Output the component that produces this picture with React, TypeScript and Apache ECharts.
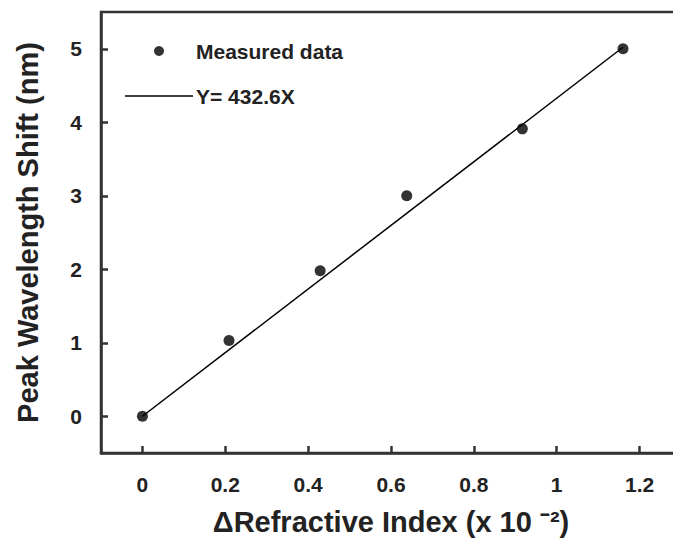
import React, { useEffect, useRef } from "react";
import * as echarts from "echarts";

const measuredX = [0, 0.209, 0.429, 0.638, 0.917, 1.16];
const measuredY = [0, 1.03, 1.98, 3.0, 3.91, 5.0];
const fitX = [0, 1.16];
const fitY = [0, 5.02];
const xTicks = [0, 0.2, 0.4, 0.6, 0.8, 1, 1.2];
const yTicks = [0, 1, 2, 3, 4, 5];
const seriesNames = ["Measured data", "Y= 432.6X"];
const xTitle = "ΔRefractive Index (x 10 ⁻²)";
const yTitle = "Peak Wavelength Shift (nm)";

const FONT = '"Liberation Sans", Arial, sans-serif';
const AXIS = "#333333";
const TEXT = "#222222";

export default function App() {
  const ref = useRef<HTMLDivElement>(null);
  useEffect(() => {
    if (!ref.current) return;
    const chart = echarts.init(ref.current, null, { renderer: "svg" });
    chart.setOption({
      animation: false,
      backgroundColor: "#ffffff",
      grid: {
        left: 101,
        right: 9,
        top: 12,
        bottom: 87,
        show: true,
        borderColor: AXIS,
        borderWidth: 2.5,
        backgroundColor: "transparent",
      },
      legend: {
        orient: "vertical",
        left: 120,
        top: 34,
        itemWidth: 68,
        itemHeight: 10,
        itemGap: 21,
        textStyle: {
          fontFamily: FONT,
          fontWeight: "bold",
          fontSize: 21,
          lineHeight: 24,
          color: TEXT,
          padding: [0, 0, 0, -2],
        },
        data: [
          { name: seriesNames[0], icon: "circle", itemStyle: { color: "#000000" } },
          {
            name: seriesNames[1],
            icon: "path://M0,0 L68,0 L68,1.5 L0,1.5 Z",
            itemStyle: { color: "#000000" },
          },
        ],
      },
      xAxis: {
        type: "value",
        min: -0.1,
        max: 1.3,
        name: xTitle,
        nameLocation: "middle",
        nameGap: 54,
        nameTextStyle: { fontFamily: FONT, fontWeight: "bold", fontSize: 29, color: TEXT },
        axisLine: { show: true, onZero: false, lineStyle: { color: AXIS, width: 2.5 } },
        axisTick: {
          show: true,
          inside: true,
          length: 7,
          customValues: xTicks,
          lineStyle: { color: AXIS, width: 2.5 },
        },
        axisLabel: {
          customValues: xTicks,
          margin: 21,
          fontFamily: FONT,
          fontWeight: "bold",
          fontSize: 21,
          color: TEXT,
          formatter: (v: number) => String(Math.round(v * 10) / 10),
        },
        splitLine: { show: false },
      },
      yAxis: {
        type: "value",
        min: -0.5,
        max: 5.5,
        name: yTitle,
        nameLocation: "middle",
        nameGap: 59,
        nameTextStyle: { fontFamily: FONT, fontWeight: "bold", fontSize: 29, color: TEXT },
        axisLine: { show: true, onZero: false, lineStyle: { color: AXIS, width: 2.5 } },
        axisTick: {
          show: true,
          inside: true,
          length: 7,
          customValues: yTicks,
          lineStyle: { color: AXIS, width: 2.5 },
        },
        axisLabel: {
          customValues: yTicks,
          margin: 19,
          fontFamily: FONT,
          fontWeight: "bold",
          fontSize: 21,
          color: TEXT,
        },
        splitLine: { show: false },
      },
      series: [
        {
          name: seriesNames[0],
          type: "scatter",
          symbol: "circle",
          symbolSize: 11,
          itemStyle: { color: "#000000" },
          data: measuredX.map((x, i) => [x, measuredY[i]]),
          z: 3,
        },
        {
          name: seriesNames[1],
          type: "line",
          symbol: "none",
          lineStyle: { color: "#000000", width: 1.5 },
          itemStyle: { color: "#000000" },
          data: fitX.map((x, i) => [x, fitY[i]]),
          z: 2,
        },
      ],
    });
    return () => chart.dispose();
  }, []);
  return (
    <div
      style={{
        position: "fixed",
        left: 0,
        top: 0,
        width: 673,
        height: 541,
        overflow: "hidden",
        background: "#fff",
      }}
    >
      <div ref={ref} style={{ width: 690, height: 541 }} />
    </div>
  );
}
